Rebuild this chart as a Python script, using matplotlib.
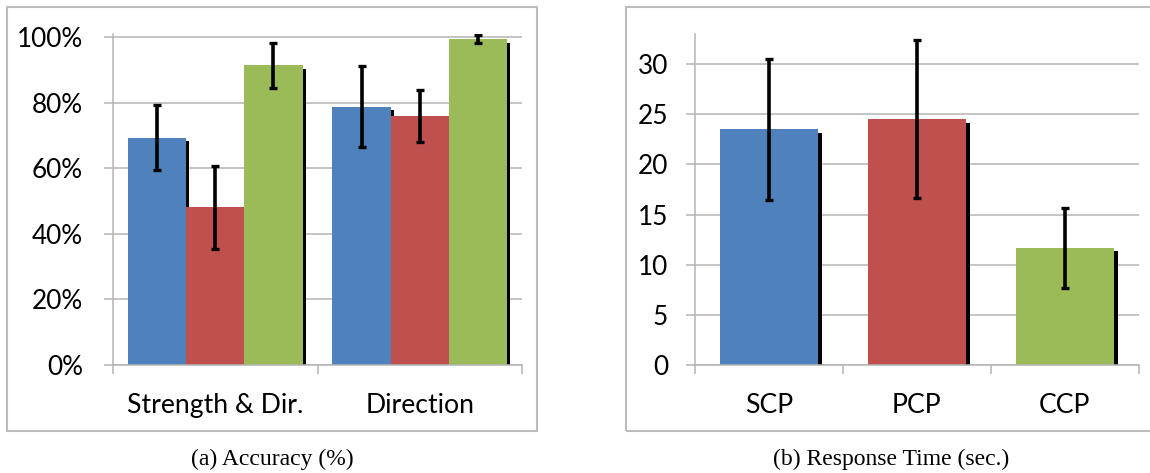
#!/usr/bin/env python3

import numpy as np
import matplotlib
matplotlib.use("Agg")
import matplotlib.pyplot as plt
import matplotlib.patheffects as pe
from matplotlib.patches import Rectangle
from matplotlib.ticker import FixedLocator


# (a) accuracy
acc_groups = ["Strength & Dir.", "Direction"]
acc_scp = [0.694, 0.788]
acc_scp_err = [0.099, 0.124]
acc_pcp = [0.481, 0.760]
acc_pcp_err = [0.126, 0.080]
acc_ccp = [0.914, 0.994]
acc_ccp_err = [0.069, 0.012]
acc_ticks = [0.0, 0.2, 0.4, 0.6, 0.8, 1.0]
acc_tick_labels = ["0%", "20%", "40%", "60%", "80%", "100%"]

# (b) response time in seconds
time_labels = ["SCP", "PCP", "CCP"]
time_mean = [23.5, 24.5, 11.7]
time_err = [7.05, 7.9, 4.0]
time_ticks = [0, 5, 10, 15, 20, 25, 30]

colors = ["#4F81BD", "#C0504D", "#9BBB59"]
grid_gray = "#b4b4b4"
box_gray = "#bcbcbc"

W, H = 1150, 473
plt.rcParams["font.family"] = ["Lato", "DejaVu Sans"]

shadow = [pe.SimplePatchShadow(offset=(2.4, -2.4), shadow_rgbFace="black",
                               alpha=1.0), pe.Normal()]


def style_axes(ax, n_cat, ytick_pad):
    ax.set_axisbelow(True)
    ax.yaxis.grid(True, color=grid_gray, linewidth=1.1)
    for side in ["top", "right"]:
        ax.spines[side].set_visible(False)
    for side in ["left", "bottom"]:
        ax.spines[side].set_color(grid_gray)
        ax.spines[side].set_linewidth(1.1)
    ax.set_xlim(-0.5, n_cat - 0.5)
    ax.xaxis.set_minor_locator(FixedLocator(np.arange(n_cat + 1) - 0.5))
    ax.tick_params(axis="x", which="minor", length=6.5, width=1.1,
                   color=grid_gray, direction="out")
    ax.tick_params(axis="x", which="major", length=0, pad=20, labelsize=19.2)
    ax.tick_params(axis="y", length=6.5, width=1.1, color=grid_gray,
                   pad=ytick_pad, labelsize=18.8)


def px_box(fig, x0, y0, x1, y1):
    rect = Rectangle((x0 / W, 1 - y1 / H), (x1 - x0) / W, (y1 - y0) / H,
                     transform=fig.transFigure, fill=False,
                     edgecolor=box_gray, linewidth=1.5, clip_on=False)
    fig.add_artist(rect)


def plot_accuracy(ax):
    x = np.arange(len(acc_groups))
    w = 0.2846
    series = [(acc_scp, acc_scp_err), (acc_pcp, acc_pcp_err),
              (acc_ccp, acc_ccp_err)]
    for i, (vals, errs) in enumerate(series):
        pos = x + (i - 1) * w
        ax.bar(pos, vals, width=w, color=colors[i], linewidth=0,
               path_effects=shadow, zorder=2)
    for i, (vals, errs) in enumerate(series):
        pos = x + (i - 1) * w
        ax.errorbar(pos, vals, yerr=errs, fmt="none", ecolor="black",
                    elinewidth=2.6, capsize=2.6, capthick=2.4, zorder=4)
    style_axes(ax, len(acc_groups), 15)
    ax.set_ylim(0, 1.01)
    ax.set_yticks(acc_ticks)
    ax.set_yticklabels(acc_tick_labels)
    ax.set_xticks(x)
    ax.set_xticklabels(acc_groups)


def plot_time(ax):
    x = np.arange(len(time_labels))
    ax.bar(x, time_mean, width=0.667, color=colors, linewidth=0,
           path_effects=shadow, zorder=2)
    ax.errorbar(x, time_mean, yerr=time_err, fmt="none", ecolor="black",
                elinewidth=2.6, capsize=2.6, capthick=2.4, zorder=4)
    style_axes(ax, len(time_labels), 13)
    ax.set_ylim(0, 33)
    ax.set_yticks(time_ticks)
    ax.set_xticks(x)
    ax.set_xticklabels(time_labels)


def main():
    fig = plt.figure(figsize=(W / 100, H / 100), dpi=100)

    ax_a = fig.add_axes([113 / W, 1 - 365 / H, 409 / W, 331 / H])
    ax_b = fig.add_axes([695 / W, 1 - 365 / H, 444 / W, 331 / H])
    plot_accuracy(ax_a)
    plot_time(ax_b)

    px_box(fig, 7, 7, 537, 431)
    px_box(fig, 626, 7, 1170, 431)

    fig.text(272 / W, 1 - 459 / H, "(a) Accuracy (%)", ha="center",
             va="center", family=["Liberation Serif"], fontsize=17)
    fig.text(891 / W, 1 - 459 / H, "(b) Response Time (sec.)", ha="center",
             va="center", family=["Liberation Serif"], fontsize=17)

    fig.savefig("out.png", dpi=100)
    plt.close(fig)


main()
